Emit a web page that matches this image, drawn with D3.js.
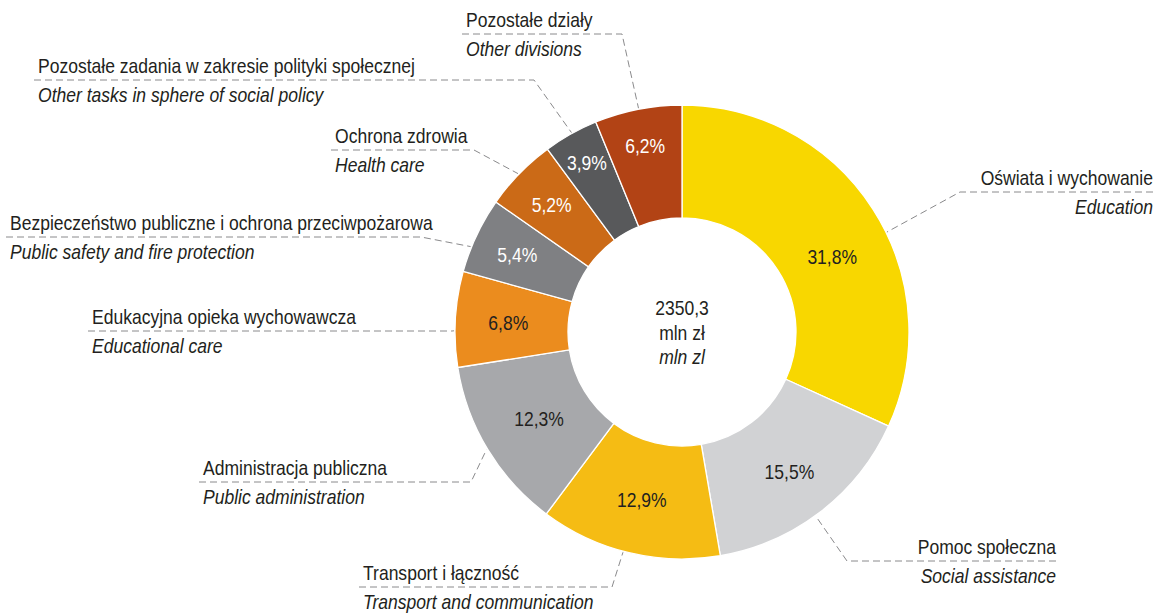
<!DOCTYPE html>
<html>
<head>
<meta charset="utf-8">
<script src="https://cdn.jsdelivr.net/npm/d3@7"></script>
<style>
  body { margin: 0; background: #fff; }
  svg text { font-family: "Liberation Sans", Arial, sans-serif; fill: #231f20; }
</style>
</head>
<body>
<svg id="chart" width="1156" height="613"></svg>
<script>
// data
let namesPl = ['Oświata i wychowanie', 'Pomoc społeczna', 'Transport i łączność', 'Administracja publiczna',
  'Edukacyjna opieka wychowawcza', 'Bezpieczeństwo publiczne i ochrona przeciwpożarowa', 'Ochrona zdrowia',
  'Pozostałe zadania w zakresie polityki społecznej', 'Pozostałe działy']
let namesEn = ['Education', 'Social assistance', 'Transport and communication', 'Public administration',
  'Educational care', 'Public safety and fire protection', 'Health care',
  'Other tasks in sphere of social policy', 'Other divisions']
let shares = [31.8, 15.5, 12.9, 12.3, 6.8, 5.4, 5.2, 3.9, 6.2]
let total = '2350,3'
let unitPl = 'mln zł'
let unitEn = 'mln zl'

// look
let colors = ['#f8d700', '#d1d2d4', '#f5bc14', '#a7a8ab', '#eb8c1e', '#7f8083', '#cb6a17', '#58595b', '#b24315']
let whiteText = [false, false, false, false, false, true, true, true, true]
let narrow = 0.835   // no condensed face installed, squeeze Liberation Sans instead
let fs = 21

// label layout: text x, line y, elbow x, anchor angle (deg), align
let labelPos = [
  {x: 1153, y: 192, ex: 960, a: 64, al: 'end'},
  {x: 1056, y: 561, ex: 847, a: 144, al: 'end'},
  {x: 363, y: 587, ex: 612, a: 195, al: 'start'},
  {x: 203, y: 482, ex: 471, a: 239, al: 'start'},
  {x: 92, y: 331, ex: 452, a: 270.3, al: 'start'},
  {x: 10, y: 237, ex: 421, a: 292, al: 'start'},
  {x: 335, y: 150, ex: 474, a: 314, al: 'start'},
  {x: 38, y: 80, ex: 534, a: 331, al: 'start'},
  {x: 466, y: 34, ex: 622, a: 349, al: 'start'}
]
// percent label radius and optional angle override
let pctR = [168, 176, 172, 167, 174, 182, 182, 194, 190]
let pctA = [63.4, null, null, null, null, null, null, null, null]

let cx = 682, cy = 332, rOut = 227, rIn = 114
let svg = d3.select('#chart')
let g = svg.append('g').attr('transform', 'translate(' + cx + ',' + cy + ')')

let pie = d3.pie().sort(null).value(d => d)
let arcs = pie(shares)
let arc = d3.arc().innerRadius(rIn).outerRadius(rOut)

g.selectAll('path.slice')
  .data(arcs)
  .enter()
  .append('path')
  .attr('class', 'slice')
  .attr('d', arc)
  .attr('fill', (d, i) => colors[i])
  .attr('stroke', '#fff')
  .attr('stroke-width', 1.3)

let fmt = v => v.toFixed(1).replace('.', ',') + '%'
let rad = deg => deg * Math.PI / 180

// squeezed text helper
let addText = (parent, x, y, str, anchor, italic, fill) => {
  return parent.append('text')
    .attr('transform', 'translate(' + x + ',' + y + ') scale(' + narrow + ',1)')
    .attr('dy', '0.35em')
    .attr('text-anchor', anchor)
    .style('font-size', fs + 'px')
    .style('font-style', italic ? 'italic' : 'normal')
    .style('fill', fill || '#231f20')
    .text(str)
}

arcs.forEach((d, i) => {
  let a = pctA[i] != null ? rad(pctA[i]) : (d.startAngle + d.endAngle) / 2
  addText(g, pctR[i] * Math.sin(a), -pctR[i] * Math.cos(a), fmt(d.data), 'middle', false,
    whiteText[i] ? '#fff' : '#231f20')
})

// centre
addText(g, 0, -24, total, 'middle', false)
addText(g, 0, 1, unitPl, 'middle', false)
addText(g, 0, 25, unitEn, 'middle', true)

// leader lines and labels
let lab = svg.append('g')
labelPos.forEach((p, i) => {
  let a = rad(p.a)
  let px = cx + (rOut + 1) * Math.sin(a)
  let py = cy - (rOut + 1) * Math.cos(a)
  let x0 = p.al === 'start' ? p.x - 4 : p.x
  lab.append('path')
    .attr('d', d3.line()([[x0, p.y], [p.ex, p.y], [px, py]]))
    .attr('fill', 'none')
    .attr('stroke', '#8a8a8c')
    .attr('stroke-width', 1)
    .attr('stroke-dasharray', '7,4')
  addText(lab, p.x, p.y - 14.5, namesPl[i], p.al, false)
  addText(lab, p.x, p.y + 14.5, namesEn[i], p.al, true)
})
</script>
</body>
</html>
